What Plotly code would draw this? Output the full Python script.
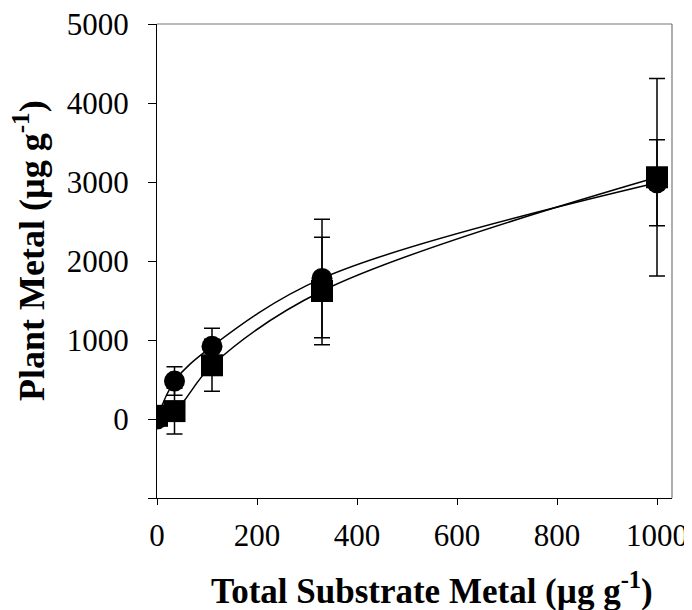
import plotly.graph_objects as go

# Data
x_substrate = [0, 35, 110, 330, 1000]
circle_vals = [0, 480, 920, 1780, 2990]
circle_err = [0, 180, 230, 750, 545]
square_vals = [40, 100, 680, 1620, 3060]
square_err = [0, 290, 330, 680, 1250]

y_tickvals = [-1000, 0, 1000, 2000, 3000, 4000, 5000]
y_ticktext = ["", "0", "1000", "2000", "3000", "4000", "5000"]
x_tickvals = [0, 200, 400, 600, 800, 1000]

FONT = "Liberation Serif"

fig = go.Figure()

fig.add_trace(go.Scatter(
    x=x_substrate, y=square_vals, mode="lines+markers",
    line=dict(color="black", width=1.5, shape="spline", smoothing=1),
    marker=dict(symbol="square", size=22, color="black"),
    error_y=dict(type="data", array=square_err, visible=True, color="black", thickness=1.5, width=8),
    showlegend=False))

fig.add_trace(go.Scatter(
    x=x_substrate, y=circle_vals, mode="lines+markers",
    line=dict(color="black", width=1.5, shape="spline", smoothing=1),
    marker=dict(symbol="circle", size=21, color="black"),
    error_y=dict(type="data", array=circle_err, visible=True, color="black", thickness=1.5, width=8),
    showlegend=False))

# top and right frame (gray)
fig.add_shape(type="line", xref="paper", yref="paper", x0=0, x1=1, y0=1, y1=1,
              line=dict(color="#777777", width=1.2))
fig.add_shape(type="line", xref="paper", yref="paper", x0=1, x1=1, y0=0, y1=1,
              line=dict(color="#777777", width=1.2))

# axis titles as annotations
fig.add_annotation(text="<b>Total Substrate Metal (µg g<sup>-1</sup>)</b>",
                   xref="paper", yref="paper", x=(432 - 157) / (672 - 157), y=0,
                   xanchor="center", yanchor="middle", yshift=-90, showarrow=False,
                   font=dict(family=FONT, size=35, color="black"))
fig.add_annotation(text="<b>Plant Metal (µg g<sup>-1</sup>)</b>",
                   xref="paper", yref="paper", x=0, y=(498 - 251) / (498 - 24),
                   xanchor="center", yanchor="middle", xshift=-(157 - 29), textangle=-90,
                   showarrow=False, font=dict(family=FONT, size=36, color="black"))

# page body has an 8px margin; compensate so the plot lands where the reference has it
fig.update_layout(
    width=684, height=602,
    margin=dict(l=149, r=20, t=16, b=112),
    plot_bgcolor="white", paper_bgcolor="white",
    font=dict(family=FONT, color="black"),
    xaxis=dict(range=[0, 1030], tickvals=x_tickvals, ticks="outside", ticklen=6,
               tickwidth=1.2, tickcolor="black", automargin=False, ticklabeloverflow="allow",
               showline=True, linecolor="black", linewidth=1.2, showgrid=False, zeroline=False,
               tickfont=dict(family=FONT, size=31), ticklabelstandoff=4),
    yaxis=dict(range=[-1000, 5000], tickvals=y_tickvals, ticktext=y_ticktext,
               ticks="outside", ticklen=8, tickwidth=1.2, tickcolor="black", automargin=False,
               ticklabeloverflow="allow",
               showline=True, linecolor="black", linewidth=1.2, showgrid=False, zeroline=False,
               tickfont=dict(family=FONT, size=31), ticklabelstandoff=13),
)

fig.write_html("out.html")
